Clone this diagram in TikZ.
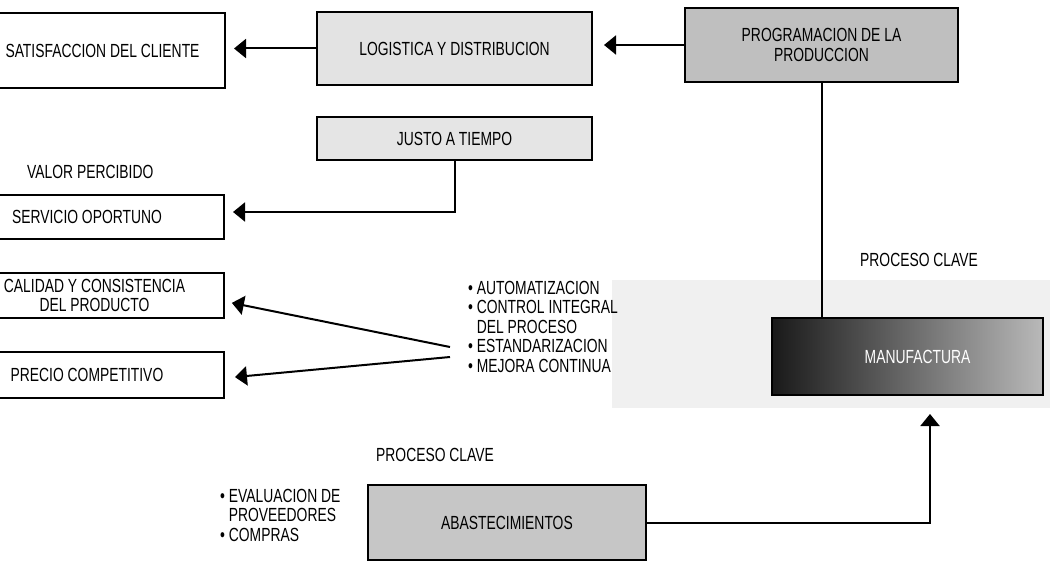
\documentclass[tikz,border=0pt]{standalone}
\usepackage{fontspec}
\setmainfont{Liberation Sans}[FakeStretch=0.73]
\usetikzlibrary{arrows.meta,positioning}

\begin{document}
\begin{tikzpicture}[x=1pt,y=-1pt,>={Triangle[length=12pt,width=19pt]}, every node/.style={font=\fontsize{19pt}{19.5pt}\selectfont}]
\tikzstyle{box}=[draw, line width=2pt, align=center, minimum width=274pt, minimum height=45pt, inner sep=2pt]
\tikzstyle{link}=[line width=2pt]
\tikzstyle{lbl}=[inner sep=0pt, anchor=west]
\useasboundingbox (0,0) rectangle (1050,564);
\clip (0,0) rectangle (1050,564);
\fill[gray!12] (612,280) rectangle (1050,408);
% valor percibido (left column)
\node[box,minimum width=245pt,minimum height=75pt] (sat) at (102.5,50.5) {SATISFACCION DEL CLIENTE};
\node[lbl] (valor) at (27,172) {VALOR PERCIBIDO};
\node[box,minimum height=44pt] (serv) at (87,217) {SERVICIO OPORTUNO};
\node[box,minimum width=259pt] (cal) at (94.5,295.5) {CALIDAD Y CONSISTENCIA\\DEL PRODUCTO};
\node[box,minimum height=46pt] (prec) at (87,375) {PRECIO COMPETITIVO};
% procesos
\node[box,minimum width=275pt,minimum height=73pt,fill=gray!22] (log) at (454.5,48.5) {LOGISTICA Y DISTRIBUCION};
\node[box,minimum width=273pt,minimum height=74pt,fill=gray!50] (prog) at (821.5,45) {PROGRAMACION DE LA\\PRODUCCION};
\node[box,minimum width=275pt,minimum height=43pt,fill=gray!20] (justo) at (454.5,138.5) {JUSTO A TIEMPO};
\node[lbl] (clave1) at (860,260) {PROCESO CLAVE};
\node[box,minimum width=271pt,minimum height=77pt,left color=black!90,right color=gray!55,text=white] (manuf) at (907.5,356.5) {\hspace*{20pt}MANUFACTURA};
\node[lbl,anchor=north west,align=left] (mej) at (468,281) {\textbullet\ AUTOMATIZACION\\\textbullet\ CONTROL INTEGRAL\\\phantom{\textbullet\ }DEL PROCESO\\\textbullet\ ESTANDARIZACION\\\textbullet\ MEJORA CONTINUA};
\node[lbl] (clave2) at (376,455) {PROCESO CLAVE};
\node[box,minimum width=278pt,minimum height=75pt,fill=gray!45] (abast) at (507,522.5) {ABASTECIMIENTOS};
\node[lbl,anchor=north west,align=left] (prov) at (220,489) {\textbullet\ EVALUACION DE\\\phantom{\textbullet\ }PROVEEDORES\\\textbullet\ COMPRAS};
\coordinate (mejA) at (450,347);
\coordinate (mejB) at (450,357);
% conectores
\draw[link,->,shorten >=8pt] (log.west) -- (log.west -| sat.east);
\draw[link,->,shorten >=11pt] (prog.west) -- (prog.west -| log.east);
\draw[link] (prog.south) -- (prog.south |- manuf.north);
\draw[link,->,shorten >=8pt] (justo.south) |- ([yshift=5pt]serv.east);
\draw[link,->,shorten >=7pt] (mejA) -- ([yshift=-6pt]cal.east);
\draw[link,->,shorten >=10pt] (mejB) -- ([yshift=-3pt]prec.east);
\draw[link,->,shorten >=18pt] (abast.east) -| ([xshift=22.5pt]manuf.south);
\end{tikzpicture}
\end{document}
